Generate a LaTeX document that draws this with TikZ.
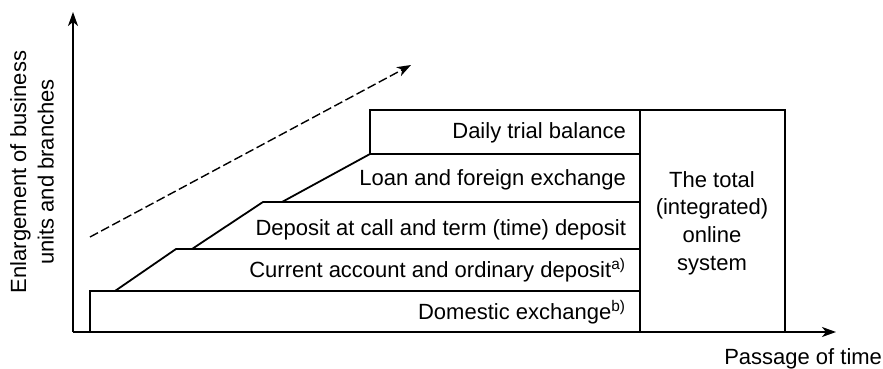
\documentclass[tikz,border=0pt]{standalone}
\usepackage{fontspec}
\setmainfont{Liberation Sans}
\usetikzlibrary{arrows.meta}
\begin{document}
\begin{tikzpicture}[x=0.5pt,y=-0.5pt,
  solid line/.style={line width=0.9pt, line join=miter},
  axis tip/.style={-{Stealth[length=7pt,width=5pt,inset=2pt]}},
  trend/.style={line width=0.7pt, dash pattern=on 4.5pt off 1.8pt, -{Stealth[length=7pt,width=5pt,inset=2pt]}},
  lbl/.style={font=\fontsize{11}{13}\selectfont, inner sep=0pt, outer sep=0pt},
  wide lbl/.style={font=\fontsize{11}{13.8}\selectfont, inner sep=0pt, outer sep=0pt, align=center},
  rowlbl/.style={lbl, anchor=base east}]
\useasboundingbox (0,0) rectangle (883,369);
% axes
\coordinate (O) at (73,332);
\coordinate (Ytop) at (73,12);
\coordinate (Xend) at (836,332);
\draw[solid line, axis tip] (O) -- (Ytop);
\draw[solid line, axis tip] (O) -- (Xend);
% step outline
\draw[solid line] (90,332) -- (90,291) -- (640,291);
\draw[solid line] (115,291) -- (176,249) -- (640,249);
\draw[solid line] (192,249) -- (263,202) -- (640,202);
\draw[solid line] (282,202) -- (370,154) -- (640,154);
\draw[solid line] (370,154) -- (370,110) -- (785,110) -- (785,332);
\draw[solid line] (640,110) -- (640,332);
% trend arrow
\coordinate (Ts) at (90,237);
\coordinate (Te) at (411,65);
\draw[trend] (Ts) -- (Te);
% row labels
\node[rowlbl] (daily) at (626,139) {Daily trial balance};
\node[rowlbl] (loan) at (626,185) {Loan and foreign exchange};
\node[rowlbl] (dep) at (626,235) {Deposit at call and term (time) deposit};
\node[rowlbl] (cur) at (626,277) {Current account and ordinary deposit\textsuperscript{a)}};
\node[rowlbl] (dom) at (626,319) {Domestic exchange\textsuperscript{b)}};
% total system
\node[wide lbl] (total) at (712,223) {The total\\(integrated)\\online\\system};
% axis labels
\node[wide lbl, rotate=90] (ylab) at (32,172) {Enlargement of business\\units and branches};
\node[lbl, anchor=base east] (xlab) at (882,364) {Passage of time};
\end{tikzpicture}
\end{document}
